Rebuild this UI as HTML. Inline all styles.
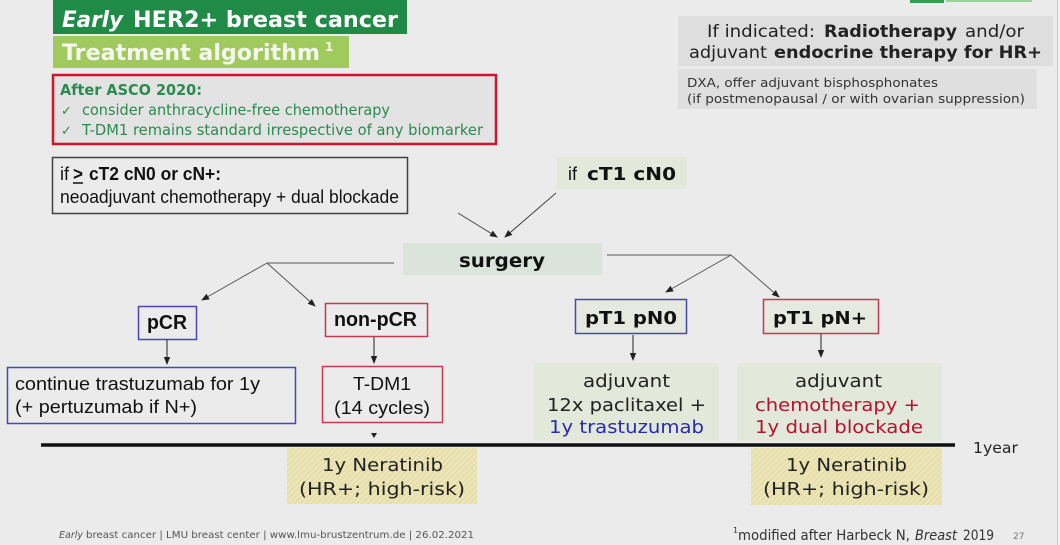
<!DOCTYPE html>
<html><head><meta charset="utf-8"><style>
html,body{margin:0;padding:0;background:#ebebeb;}
svg{display:block;}
</style></head><body>
<svg width="1060" height="545" viewBox="0 0 1060 545" xmlns="http://www.w3.org/2000/svg">
<defs>
<pattern id="hatch" width="4" height="4" patternUnits="userSpaceOnUse" patternTransform="rotate(45)">
<rect width="4" height="4" fill="#ece5b6"/>
<line x1="0" y1="0" x2="0" y2="4" stroke="#d8cf98" stroke-width="1.2"/>
</pattern>
<marker id="ah" markerWidth="8" markerHeight="8" refX="7" refY="4" orient="auto" markerUnits="userSpaceOnUse"><path d="M0,0.8 L8,4 L0,7.2 z" fill="#222"/></marker>
</defs>
<rect x="0" y="0" width="1060" height="545" fill="#ebebeb"/>
<rect x="1058" y="0" width="2" height="545" fill="#f2f2f2"/>
<line x1="1057.5" y1="0" x2="1057.5" y2="545" stroke="#c9ccd2" stroke-width="1"/>
<rect x="910" y="0" width="34" height="3" fill="#3a9a50"/>
<rect x="946" y="0" width="86" height="2" fill="#9ad39a"/>

<!-- Title -->
<rect x="53" y="0" width="354" height="34" fill="#1f8b47"/>
<g font-family="DejaVu Sans, sans-serif" font-weight="bold" fill="#ffffff" font-size="22">
<text x="62" y="27" font-style="italic" textLength="61" lengthAdjust="spacingAndGlyphs">Early</text>
<text x="133" y="27" textLength="265" lengthAdjust="spacingAndGlyphs">HER2+ breast cancer</text>
</g>
<rect x="53" y="36" width="296" height="32" fill="#a0ca5d"/>
<g font-family="DejaVu Sans, sans-serif" font-weight="bold" fill="#f4f8ee">
<text x="62" y="60" font-size="22" textLength="258" lengthAdjust="spacingAndGlyphs">Treatment algorithm</text>
<text x="325" y="51" font-size="12">1</text>
</g>

<!-- Red ASCO box -->
<rect x="53" y="75" width="443" height="69" fill="#e3e3e3" stroke="#d0142c" stroke-width="2.5"/>
<g font-family="DejaVu Sans, sans-serif" fill="#2b8a4e" font-size="15">
<text x="60" y="95" font-weight="bold" textLength="142" lengthAdjust="spacingAndGlyphs">After ASCO 2020:</text>
<text x="61" y="115" font-size="13">✓</text>
<text x="82" y="115" textLength="308" lengthAdjust="spacingAndGlyphs">consider anthracycline-free chemotherapy</text>
<text x="61" y="135" font-size="13">✓</text>
<text x="82" y="135" textLength="401" lengthAdjust="spacingAndGlyphs">T-DM1 remains standard irrespective of any biomarker</text>
</g>

<!-- neoadjuvant box -->
<rect x="52.5" y="157.5" width="355" height="56" fill="none" stroke="#404040" stroke-width="1.5"/>
<g font-family="Liberation Sans, Arial, sans-serif" fill="#111" font-size="18">
<text x="60" y="180">if</text>
<text x="73" y="180" font-weight="bold" textLength="10" lengthAdjust="spacingAndGlyphs">&gt;</text>
<line x1="73" y1="183" x2="83" y2="183" stroke="#111" stroke-width="1.5"/>
<text x="89" y="180" font-weight="bold" textLength="132" lengthAdjust="spacingAndGlyphs">cT2 cN0 or cN+:</text>
<text x="60" y="203" textLength="339" lengthAdjust="spacingAndGlyphs">neoadjuvant chemotherapy + dual blockade</text>
</g>

<!-- if cT1 cN0 -->
<rect x="557" y="157" width="130" height="32" fill="#e3e8da"/>
<text x="568" y="180" font-family="Liberation Sans, Arial, sans-serif" font-size="18" fill="#111">if</text>
<text x="587" y="180" font-family="DejaVu Sans, sans-serif" font-size="18" font-weight="bold" fill="#111" textLength="89" lengthAdjust="spacingAndGlyphs">cT1 cN0</text>

<!-- arrows to surgery -->
<g stroke="#444" stroke-width="1" fill="none">
<line x1="458" y1="213" x2="497" y2="237" marker-end="url(#ah)"/>
<line x1="556" y1="193" x2="505" y2="237" marker-end="url(#ah)"/>
</g>

<!-- surgery -->
<rect x="403" y="243" width="199" height="32" fill="#dae4da"/>
<text x="459" y="267" font-family="DejaVu Sans, sans-serif" font-size="19" font-weight="bold" fill="#111" textLength="86" lengthAdjust="spacingAndGlyphs">surgery</text>

<!-- branch lines -->
<g stroke="#555" stroke-width="1" fill="none">
<line x1="394" y1="263" x2="267" y2="263"/>
<line x1="267" y1="263" x2="202" y2="300" marker-end="url(#ah)"/>
<line x1="267" y1="263" x2="315" y2="306" marker-end="url(#ah)"/>
<line x1="607" y1="255" x2="731" y2="255"/>
<line x1="731" y1="255" x2="666" y2="292" marker-end="url(#ah)"/>
<line x1="731" y1="255" x2="779" y2="297" marker-end="url(#ah)"/>
</g>

<!-- pCR / non-pCR -->
<rect x="138.5" y="306.5" width="58" height="33" fill="none" stroke="#4646b4" stroke-width="1.5"/>
<rect x="325.5" y="303.5" width="102" height="33" fill="none" stroke="#c43a50" stroke-width="1.5"/>
<g font-family="Liberation Sans, Arial, sans-serif" font-size="20" font-weight="bold" fill="#111">
<text x="147" y="329" textLength="40" lengthAdjust="spacingAndGlyphs">pCR</text>
<text x="334" y="326" textLength="83" lengthAdjust="spacingAndGlyphs">non-pCR</text>
</g>
<g stroke="#222" stroke-width="1" fill="none">
<line x1="167" y1="340" x2="167" y2="364" marker-end="url(#ah)"/>
<line x1="374" y1="337" x2="374" y2="363" marker-end="url(#ah)"/>
</g>

<!-- continue / T-DM1 -->
<rect x="7.5" y="367.5" width="288" height="56" fill="none" stroke="#4646b4" stroke-width="1.5"/>
<rect x="322.5" y="366.5" width="120" height="56" fill="none" stroke="#c43a50" stroke-width="1.5"/>
<g font-family="Liberation Sans, Arial, sans-serif" font-size="18" fill="#111">
<text x="15" y="390" textLength="245" lengthAdjust="spacingAndGlyphs">continue trastuzumab for 1y</text>
<text x="15" y="413" textLength="182" lengthAdjust="spacingAndGlyphs">(+ pertuzumab if N+)</text>
<text x="353" y="390" textLength="58" lengthAdjust="spacingAndGlyphs">T-DM1</text>
<text x="334" y="414" textLength="96" lengthAdjust="spacingAndGlyphs">(14 cycles)</text>
</g>
<path d="M371,433 L377,433 L374,438 z" fill="#222"/>

<!-- pT1 boxes -->
<rect x="575.5" y="299.5" width="111" height="34" fill="#e6e9df" stroke="#4646b4" stroke-width="1.5"/>
<rect x="763.5" y="299.5" width="115" height="34" fill="#e6e9df" stroke="#c43a50" stroke-width="1.5"/>
<g font-family="DejaVu Sans, sans-serif" font-size="18" font-weight="bold" fill="#111">
<text x="585" y="324" textLength="92" lengthAdjust="spacingAndGlyphs">pT1 pN0</text>
<text x="773" y="324" textLength="94" lengthAdjust="spacingAndGlyphs">pT1 pN+</text>
</g>
<g stroke="#222" stroke-width="1" fill="none">
<line x1="633" y1="335" x2="633" y2="360" marker-end="url(#ah)"/>
<line x1="821" y1="334" x2="821" y2="357" marker-end="url(#ah)"/>
</g>

<!-- adjuvant boxes -->
<rect x="534" y="363" width="185" height="78" fill="#e2e8da"/>
<rect x="737" y="363" width="205" height="78" fill="#e2e8da"/>
<g font-family="DejaVu Sans, sans-serif" font-size="18" fill="#222">
<text x="583" y="387" textLength="87" lengthAdjust="spacingAndGlyphs">adjuvant</text>
<text x="547" y="411" textLength="159" lengthAdjust="spacingAndGlyphs">12x paclitaxel +</text>
<text x="549" y="433" fill="#2a2aaa" textLength="155" lengthAdjust="spacingAndGlyphs">1y trastuzumab</text>
<text x="795" y="387" textLength="87" lengthAdjust="spacingAndGlyphs">adjuvant</text>
<text x="755" y="411" fill="#b5132f" textLength="165" lengthAdjust="spacingAndGlyphs">chemotherapy +</text>
<text x="755" y="433" fill="#b5132f" textLength="168" lengthAdjust="spacingAndGlyphs">1y dual blockade</text>
</g>

<!-- timeline -->
<line x1="41" y1="445" x2="955" y2="445" stroke="#111" stroke-width="3.5"/>
<text x="973" y="453" font-family="DejaVu Sans, sans-serif" font-size="15" fill="#222" textLength="45" lengthAdjust="spacingAndGlyphs">1year</text>

<!-- Neratinib -->
<rect x="287" y="448" width="190" height="56" fill="url(#hatch)"/>
<rect x="751" y="448" width="191" height="57" fill="url(#hatch)"/>
<g font-family="DejaVu Sans, sans-serif" font-size="18" fill="#222">
<text x="322" y="471" textLength="121" lengthAdjust="spacingAndGlyphs">1y Neratinib</text>
<text x="299" y="495" textLength="166" lengthAdjust="spacingAndGlyphs">(HR+; high-risk)</text>
<text x="786" y="471" textLength="121" lengthAdjust="spacingAndGlyphs">1y Neratinib</text>
<text x="763" y="495" textLength="166" lengthAdjust="spacingAndGlyphs">(HR+; high-risk)</text>
</g>

<!-- top right -->
<rect x="678" y="16" width="375" height="50" fill="#dedede"/>
<g font-family="DejaVu Sans, sans-serif" font-size="17" fill="#222">
<text x="707" y="37" textLength="108" lengthAdjust="spacingAndGlyphs">If indicated:</text>
<text x="824" y="37" font-weight="bold" textLength="133" lengthAdjust="spacingAndGlyphs">Radiotherapy</text>
<text x="965" y="37" textLength="59" lengthAdjust="spacingAndGlyphs">and/or</text>
<text x="689" y="58" textLength="78" lengthAdjust="spacingAndGlyphs">adjuvant</text>
<text x="774" y="58" font-weight="bold" textLength="268" lengthAdjust="spacingAndGlyphs">endocrine therapy for HR+</text>
</g>
<rect x="678" y="69" width="359" height="40" fill="#dfdfdf"/>
<g font-family="DejaVu Sans, sans-serif" font-size="12.5" fill="#333">
<text x="687" y="87" textLength="251" lengthAdjust="spacingAndGlyphs">DXA, offer adjuvant bisphosphonates</text>
<text x="687" y="103" textLength="338" lengthAdjust="spacingAndGlyphs">(if postmenopausal / or with ovarian suppression)</text>
</g>

<!-- footer -->
<g font-family="DejaVu Sans, sans-serif" font-size="10" fill="#555">
<text x="59" y="538" font-style="italic" textLength="24" lengthAdjust="spacingAndGlyphs">Early</text>
<text x="86" y="538" textLength="388" lengthAdjust="spacingAndGlyphs">breast cancer | LMU breast center | www.lmu-brustzentrum.de | 26.02.2021</text>
</g>
<g font-family="DejaVu Sans, sans-serif" font-size="14" fill="#333">
<text x="733" y="533" font-size="8">1</text>
<text x="738" y="540" textLength="172" lengthAdjust="spacingAndGlyphs">modified after Harbeck N,</text>
<text x="915" y="540" font-style="italic" textLength="42" lengthAdjust="spacingAndGlyphs">Breast</text>
<text x="963" y="540" textLength="31" lengthAdjust="spacingAndGlyphs">2019</text>
</g>
<text x="1013" y="539" font-family="DejaVu Sans, sans-serif" font-size="9" fill="#777">27</text>
</svg>
</body></html>
